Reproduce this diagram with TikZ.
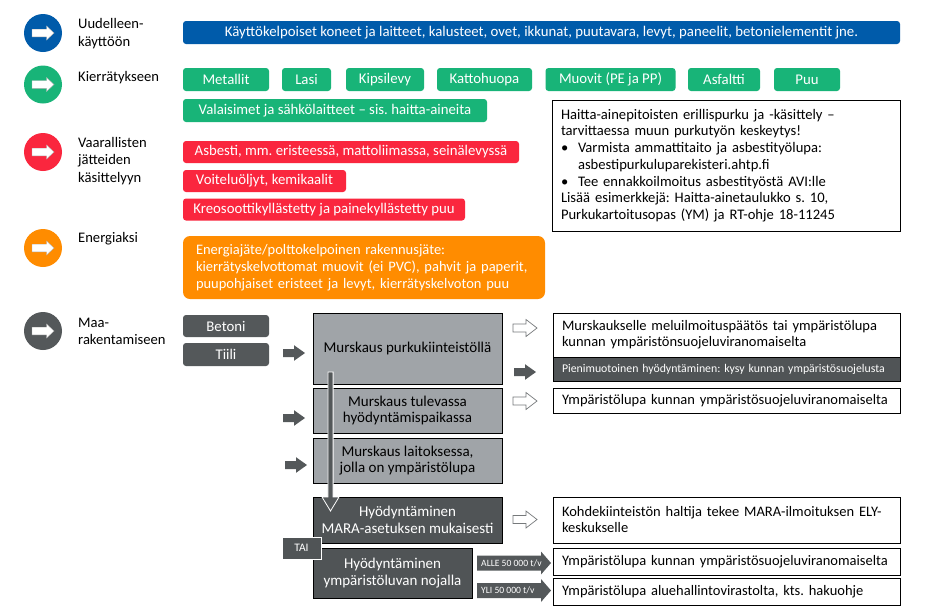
\documentclass[tikz,border=0pt]{standalone}
\usepackage{fontspec}
\setmainfont{Carlito}
\frenchspacing
\definecolor{cBlue}{RGB}{0,91,170}
\definecolor{cGreen}{RGB}{24,180,120}
\definecolor{cRed}{RGB}{250,38,62}
\definecolor{cOrange}{RGB}{255,140,0}
\definecolor{cDark}{RGB}{84,88,90}
\definecolor{cMid}{RGB}{160,164,168}
\definecolor{cBoxDark}{RGB}{80,84,86}
\newcommand\fsLbl{\fontsize{14.6}{17.5}\selectfont}
\newcommand\fsPill{\fontsize{14.8}{17}\selectfont}
\newcommand\fsOrange{\fontsize{14.5}{17}\selectfont}
\newcommand\fsHaz{\fontsize{14.6}{16.7}\selectfont}
\newcommand\fsBox{\fontsize{15}{16.5}\selectfont}
\newcommand\fsTxt{\fontsize{14.5}{16}\selectfont}
\newcommand\fsSmall{\fontsize{11.8}{13}\selectfont}
\newcommand\fsTiny{\fontsize{9.6}{10}\selectfont}
\tikzset{
  lbl/.style={anchor=west, align=left, inner sep=0pt, font=\fsLbl, text=black},
  pill/.style={rounded corners=3pt, inner sep=0pt, text=white, font=\fsPill},
  icon/.style={circle, inner sep=0pt, minimum size=38pt},
  gbox/.style={draw=black, line width=0.6pt, fill=cMid, inner sep=0pt, align=center, font=\fsBox, text=black},
  dbox/.style={draw=black, line width=0.6pt, fill=cBoxDark, inner sep=0pt, align=center, font=\fsBox, text=white},
  rbox/.style={draw=black, line width=0.8pt, fill=white, inner sep=0pt, align=left, font=\fsTxt, text=black},
  wharrow/.pic={\path[fill=white, draw=black!30, line width=0.4pt] (-11,-3.8) -- (3.5,-3.8) -- (3.5,-7) -- (11,0) -- (3.5,7) -- (3.5,3.8) -- (-11,3.8) -- cycle;},
  dkarrow/.pic={\path[fill=cDark] (0,-4) -- (11,-4) -- (11,-7.8) -- (22,0) -- (11,7.8) -- (11,4) -- (0,4) -- cycle;},
  oparrow/.pic={\path[fill=white, draw=cDark!80, line width=0.7pt] (0,-4) -- (13,-4) -- (13,-8.5) -- (24,0) -- (13,8.5) -- (13,4) -- (0,4) -- cycle;},
  bigarrow/.pic={\path[fill=cDark] (0,-7.5) -- (64,-7.5) -- (64,-11.5) -- (74,0) -- (64,11.5) -- (64,7.5) -- (0,7.5) -- cycle;}
}
\begin{document}
\begin{tikzpicture}[x=1pt,y=-1pt]
\useasboundingbox (0,0) rectangle (936,614);
\fill[white] (0,0) rectangle (936,614);

% icons
\node[icon, fill=cBlue] (c1) at (43,33) {};
\node[icon, fill=cGreen] (c2) at (43,84.5) {};
\node[icon, fill=cRed] (c3) at (43,152) {};
\node[icon, fill=cOrange] (c4) at (43,248) {};
\node[icon, fill=cDark] (c5) at (43,331) {};
\foreach \c in {c1,c2,c3,c4,c5} {\pic at (\c.center) {wharrow};}

% labels
\node[lbl] (l1) at (78,33.5) {Uudelleen-\\käyttöön};
\node[lbl] (l2) at (78,77.5) {Kierrätykseen};
\node[lbl] (l3) at (78,161) {Vaarallisten\\jätteiden\\käsittelyyn};
\node[lbl] (l4) at (78,239) {Energiaksi};
\node[lbl] (l5) at (78,331.5) {Maa-\\rakentamiseen};

% reuse
\node[pill, fill=cBlue, minimum width=717pt, minimum height=23pt] (reuse) at (541.5,32.5) {Käyttökelpoiset koneet ja laitteet, kalusteet, ovet, ikkunat, puutavara, levyt, paneelit, betonielementit jne.};

% recycling
\begin{scope}[every node/.style={pill, fill=cGreen, minimum height=23pt}]
\node[minimum width=86pt] (g1) at (226,79.5) {Metallit};
\node[minimum width=49pt] (g2) at (306.5,79.5) {Lasi};
\node[minimum width=78pt] (g3) at (385,79.5) {Kipsilevy};
\node[minimum width=95pt] (g4) at (484.5,79.5) {Kattohuopa};
\node[minimum width=130pt] (g5) at (610.5,79.5) {Muovit (PE ja PP)};
\node[minimum width=72pt] (g6) at (724,79.5) {Asfaltti};
\node[minimum width=66pt] (g7) at (807,79.5) {Puu};
\node[minimum width=304pt] (g8) at (335,110.5) {Valaisimet ja sähkölaitteet – sis. haitta-aineita};
\end{scope}

% hazardous
\begin{scope}[every node/.style={pill, fill=cRed, minimum height=22pt}]
\node[minimum width=336pt] (r1) at (351,152) {Asbesti, mm. eristeessä, mattoliimassa, seinälevyssä};
\node[minimum width=163pt] (r2) at (264.5,181) {Voiteluöljyt, kemikaalit};
\node[minimum width=282pt] (r3) at (324,209.5) {Kreosoottikyllästetty ja painekyllästetty puu};
\end{scope}

\node[rbox, font=\fsHaz, minimum width=348pt, minimum height=131pt, text width=330pt] (haz) at (726,165.5) {Haitta-ainepitoisten erillispurku ja -käsittely –\\tarvittaessa muun purkutyön keskeytys!\\\makebox[17pt][l]{\textbullet}Varmista ammattitaito ja asbestityölupa:\\\hspace*{17pt}asbestipurkuluparekisteri.ahtp.fi\\\makebox[17pt][l]{\textbullet}Tee ennakkoilmoitus asbestityöstä AVI:lle\\Lisää esimerkkejä: Haitta-ainetaulukko s. 10,\\Purkukartoitusopas (YM) ja RT-ohje 18-11245};

% energy
\node[pill, font=\fsOrange, fill=cOrange, rounded corners=7pt, minimum width=362pt, minimum height=63pt, text width=336pt, align=left] (en) at (364,267.5) {Energiajäte/polttokelpoinen rakennusjäte:\\kierrätyskelvottomat muovit (ei PVC), pahvit ja paperit,\\puupohjaiset eristeet ja levyt, kierrätyskelvoton puu};

% earth construction
\node[pill, fill=cDark, minimum width=86pt, minimum height=22pt] (bet) at (226,326) {Betoni};
\node[pill, fill=cDark, minimum width=86pt, minimum height=23pt] (tii) at (226,354.5) {Tiili};

\node[gbox, minimum width=189pt, minimum height=71pt] (m1) at (407.5,348.5) {Murskaus purkukiinteistöllä};
\node[gbox, minimum width=189pt, minimum height=45pt] (m2) at (407.5,410.5) {Murskaus tulevassa\\hyödyntämispaikassa};
\node[gbox, minimum width=189pt, minimum height=45pt] (m3) at (407.5,460.5) {Murskaus laitoksessa,\\jolla on ympäristölupa};
\node[dbox, minimum width=189pt, minimum height=46pt] (m4) at (407.5,520) {Hyödyntäminen\\MARA-asetuksen mukaisesti};
\node[dbox, minimum width=159pt, minimum height=50pt] (m5) at (392.5,573) {Hyödyntäminen\\ympäristöluvan nojalla};
\node[draw=white, line width=1pt, fill=cBoxDark, minimum width=39pt, minimum height=22pt, inner sep=0pt, text=white, font=\fontsize{11.5}{12}\selectfont] (tai) at (301.5,548) {TAI};

% vertical arrow
\coordinate (vtop) at (330.5,372);
\coordinate (vbot) at (330.5,511);
\path[fill=cDark, draw=white, line width=0.8pt] ([xshift=-2.6pt]vtop) -- ([xshift=-2.6pt]vtop |- 0,497) -- ([xshift=-8.5pt]vtop |- 0,497) -- (vbot) -- ([xshift=8.5pt]vtop |- 0,497) -- ([xshift=2.6pt]vtop |- 0,497) -- ([xshift=2.6pt]vtop) -- cycle;

% arrows into crushing boxes
\pic at (283,353) {dkarrow};
\pic at (283,418) {dkarrow};
\pic at (285,465) {dkarrow};

% right side
\node[rbox, minimum width=347pt, minimum height=44pt, text width=329pt] (p1) at (726.5,335) {Murskaukselle meluilmoituspäätös tai ympäristölupa\\kunnan ympäristönsuojeluviranomaiselta};
\node[draw=black, line width=0.8pt, fill=cBoxDark, minimum width=347pt, minimum height=24pt, inner sep=0pt, text width=329pt, align=left, text=white, font=\fsSmall] (p1b) at (726.5,369) {Pienimuotoinen hyödyntäminen: kysy kunnan ympäristösuojelusta};
\node[rbox, minimum width=347pt, minimum height=25pt, text width=329pt] (p2) at (726.5,401) {Ympäristölupa kunnan ympäristösuojeluviranomaiselta};
\node[rbox, minimum width=347pt, minimum height=46pt, text width=329pt] (p3) at (726.5,520) {Kohdekiinteistön haltija tekee MARA-ilmoituksen ELY-\\keskukselle};
\node[rbox, minimum width=347pt, minimum height=27pt, text width=329pt] (p4) at (726.5,561.5) {Ympäristölupa kunnan ympäristösuojeluviranomaiselta};
\node[rbox, minimum width=347pt, minimum height=27pt, text width=329pt] (p5) at (726.5,591.5) {Ympäristölupa aluehallintovirastolta, kts. hakuohje};

\pic at (513,328) {oparrow};
\pic at (514,372) {dkarrow};
\pic at (513,401) {oparrow};
\pic at (513,519.5) {oparrow};

\pic at (477,563) {bigarrow};
\pic at (477,590.5) {bigarrow};
\node[anchor=west, inner sep=0pt, text=white, font=\fsTiny] (alle) at (481,563) {ALLE 50 000 t/v};
\node[anchor=west, inner sep=0pt, text=white, font=\fsTiny] (yli) at (481,590.5) {YLI 50 000 t/v};
\end{tikzpicture}
\end{document}
